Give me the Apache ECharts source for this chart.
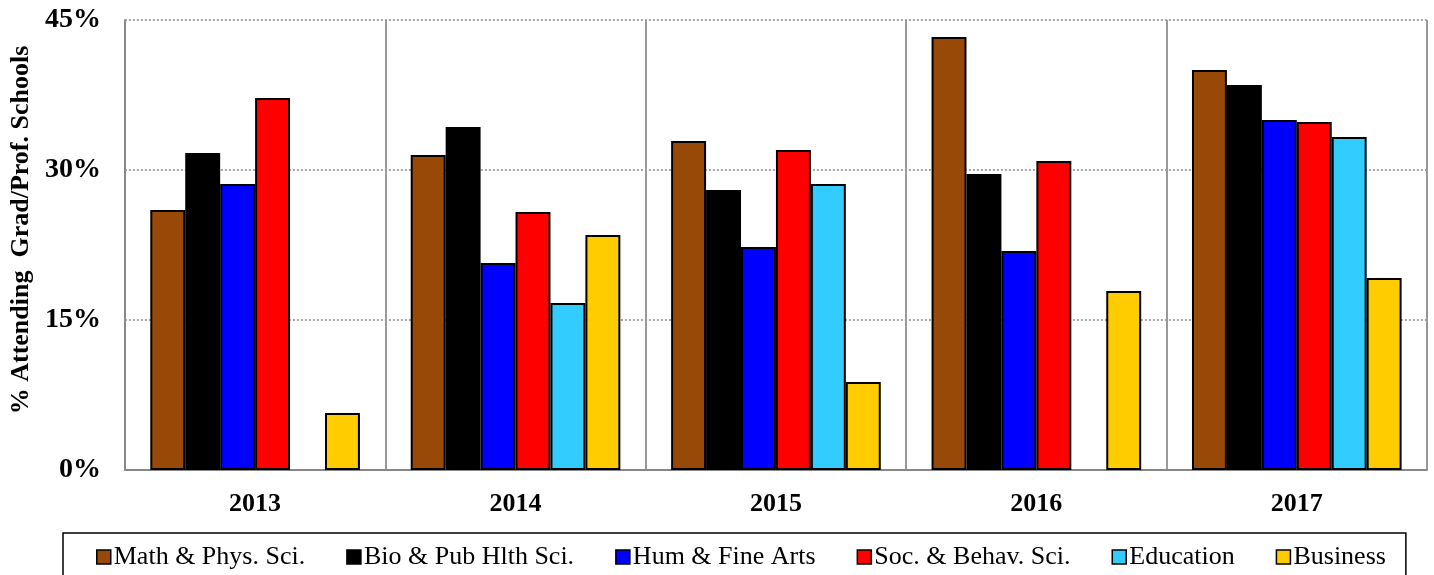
<!DOCTYPE html>
<html lang="en">
<head>
    <meta charset="UTF-8">
    <title>Grad/Prof. Schools</title>
    <script src="https://cdn.jsdelivr.net/npm/echarts@6/dist/echarts.min.js"></script>
    <style>
        * { margin: 0; padding: 0; }
        #chart { width: 1434px; height: 575px; }
    </style>
</head>
<body>
    <div id="chart"></div>
    <script>
        const years = ['2013', '2014', '2015', '2016', '2017']
        const mathPhys = [26.0, 31.5, 32.9, 43.3, 40.0]
        const bioPubHlth = [31.7, 34.3, 28.0, 29.6, 38.5]
        const humFineArts = [28.6, 20.7, 22.3, 21.9, 35.0]
        const socBehav = [37.2, 25.8, 32.0, 30.9, 34.8]
        const education = [null, 16.7, 28.6, null, 33.3]
        const business = [5.7, 23.5, 8.8, 17.9, 19.2]

        const names = ['Math & Phys. Sci.', 'Bio & Pub Hlth Sci.', 'Hum & Fine Arts', 'Soc. & Behav. Sci.', 'Education', 'Business']
        const colors = ['#984807', '#000000', '#0000ff', '#ff0000', '#33ccff', '#ffcc00']
        const values = [mathPhys, bioPubHlth, humFineArts, socBehav, education, business]

        const chart = echarts.init(document.querySelector('#chart'))
        const serif = '"Liberation Serif", "Times New Roman", serif'

        const option = {
            animation: false,
            textStyle: { fontFamily: serif },
            grid: { left: 123, right: 7, top: 20, bottom: 105 },
            legend: {
                left: 63,
                top: 533,
                padding: [11, 20, 30, 33],
                itemGap: 41,
                itemWidth: 14,
                itemHeight: 14,
                borderColor: '#000',
                borderWidth: 1.5,
                textStyle: { fontFamily: serif, fontSize: 26, color: '#000', padding: [0, 0, 0, -2] },
                data: names.map(n => ({ name: n, icon: 'rect', itemStyle: { borderColor: '#000', borderWidth: 1.5 } }))
            },
            xAxis: {
                type: 'category',
                data: years,
                axisLine: { lineStyle: { color: '#888', width: 2 } },
                axisTick: { length: 8, lineStyle: { color: '#888', width: 2 } },
                splitLine: { show: true, lineStyle: { color: '#999', width: 2 } },
                axisLabel: { fontFamily: serif, fontWeight: 'bold', fontSize: 26, color: '#000', margin: 21 }
            },
            yAxis: {
                type: 'value',
                min: 0,
                max: 45,
                interval: 15,
                name: '% Attending  Grad/Prof. Schools',
                nameLocation: 'middle',
                nameGap: 90,
                nameTextStyle: { fontFamily: serif, fontWeight: 'bold', fontSize: 26, color: '#000', padding: [0, 0, 0, 30] },
                axisLine: { show: true, lineStyle: { color: '#888', width: 2 } },
                axisTick: { show: false },
                splitLine: { lineStyle: { color: '#888', type: [2, 2], width: 1.5 } },
                axisLabel: { formatter: '{value}%', fontFamily: serif, fontWeight: 'bold', fontSize: 28, color: '#000', margin: 24 }
            },
            series: names.map((n, i) => ({
                name: n,
                type: 'bar',
                data: values[i],
                barGap: '0%',
                barCategoryGap: '19.5%',
                itemStyle: { color: colors[i], borderColor: '#000', borderWidth: 2 }
            }))
        }

        chart.setOption(option)
    </script>
</body>
</html>
